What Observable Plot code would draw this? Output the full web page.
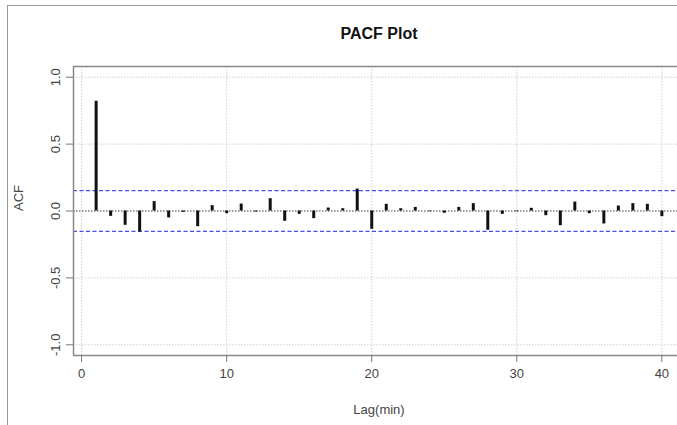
<!DOCTYPE html>
<html>
<head>
<meta charset="utf-8">
<script src="https://cdn.jsdelivr.net/npm/d3@7"></script>
<script src="https://cdn.jsdelivr.net/npm/@observablehq/plot@0.6"></script>
<style>
  html, body { margin: 0; padding: 0; background: #fff; overflow: hidden; width: 677px; height: 425px; }
  #wrap { position: relative; width: 677px; height: 425px; overflow: hidden; }
  #border { position: absolute; left: 7px; top: 5px; width: 700px; height: 440px; border-left: 1.5px solid #999; border-top: 1.5px solid #999; pointer-events: none; }
  svg { font-family: "Liberation Sans", Arial, sans-serif; max-width: none !important; width: 690px !important; height: 425px !important; display: block; }
</style>
</head>
<body>
<div id="wrap"><div id="border"></div></div>
<script>
const lags = d3.range(1, 41);
const pacf = [
  0.82, -0.04, -0.107, -0.157, 0.07, -0.052, -0.01, -0.117, 0.04, -0.02,
  0.052, -0.008, 0.092, -0.077, -0.025, -0.057, 0.022, 0.017, 0.164, -0.137,
  0.05, 0.017, 0.027, -0.005, -0.017, 0.027, 0.055, -0.144, -0.025, -0.005,
  0.02, -0.035, -0.11, 0.067, -0.02, -0.097, 0.037, 0.055, 0.05, -0.042
];
const ciBound = 0.152;
const xTicks = [0, 10, 20, 30, 40];
const yTicks = [-1.0, -0.5, 0.0, 0.5, 1.0];
const xDomain = [-0.56, 41.56];
const yDomain = [-1.08, 1.08];
const titleText = "PACF Plot";
const xLabel = "Lag(min)";
const yLabel = "ACF";

const data = lags.map((lag, i) => ({lag, value: pacf[i]}));

const chart = Plot.plot({
  width: 690,
  height: 425,
  marginLeft: 73,
  marginRight: 6,
  marginTop: 66,
  marginBottom: 70,
  style: {fontFamily: "'Liberation Sans', Arial, sans-serif", fontSize: "13px", color: "#444", background: "white", maxWidth: "none"},
  x: {domain: xDomain},
  y: {domain: yDomain},
  marks: [
    Plot.gridX(xTicks, {stroke: "#cfcfcf", strokeOpacity: 1, strokeDasharray: "1.5,1.5", strokeWidth: 1}),
    Plot.gridY(yTicks, {stroke: "#cfcfcf", strokeOpacity: 1, strokeDasharray: "1.5,1.5", strokeWidth: 1}),
    Plot.ruleY([0], {stroke: "#555", strokeDasharray: "1.5,1.5", strokeWidth: 1}),
    Plot.ruleY([ciBound, -ciBound], {stroke: "#4a4af0", strokeDasharray: "4,2.5", strokeWidth: 1.3}),
    Plot.ruleX(data, {x: "lag", y1: 0, y2: "value", stroke: "#111", strokeWidth: 3}),
    Plot.ruleY(yDomain, {stroke: "#888", strokeWidth: 1.5}),
    Plot.ruleX([xDomain[0]], {stroke: "#888", strokeWidth: 1.5}),
    Plot.axisX(xTicks, {tickSize: 7, tickPadding: 6, stroke: "#777", color: "#444", label: null, fontSize: 13}),
    Plot.axisY(yTicks, {tickSize: 7, tickPadding: 7, tickRotate: -90, tickFormat: d => d.toFixed(1), stroke: "#777", color: "#444", label: null, fontSize: 13}),
    Plot.text([titleText], {frameAnchor: "top", dy: -28, lineAnchor: "bottom", fontWeight: "bold", fontSize: 16, fill: "#111"}),
    Plot.text([xLabel], {frameAnchor: "bottom", dy: 58, lineAnchor: "bottom", fontSize: 13, fill: "#444"}),
    Plot.text([yLabel], {frameAnchor: "left", dx: -55, rotate: -90, fontSize: 13, fill: "#444"})
  ]
});
document.getElementById("wrap").insertBefore(chart, document.getElementById("border"));
</script>
</body>
</html>
